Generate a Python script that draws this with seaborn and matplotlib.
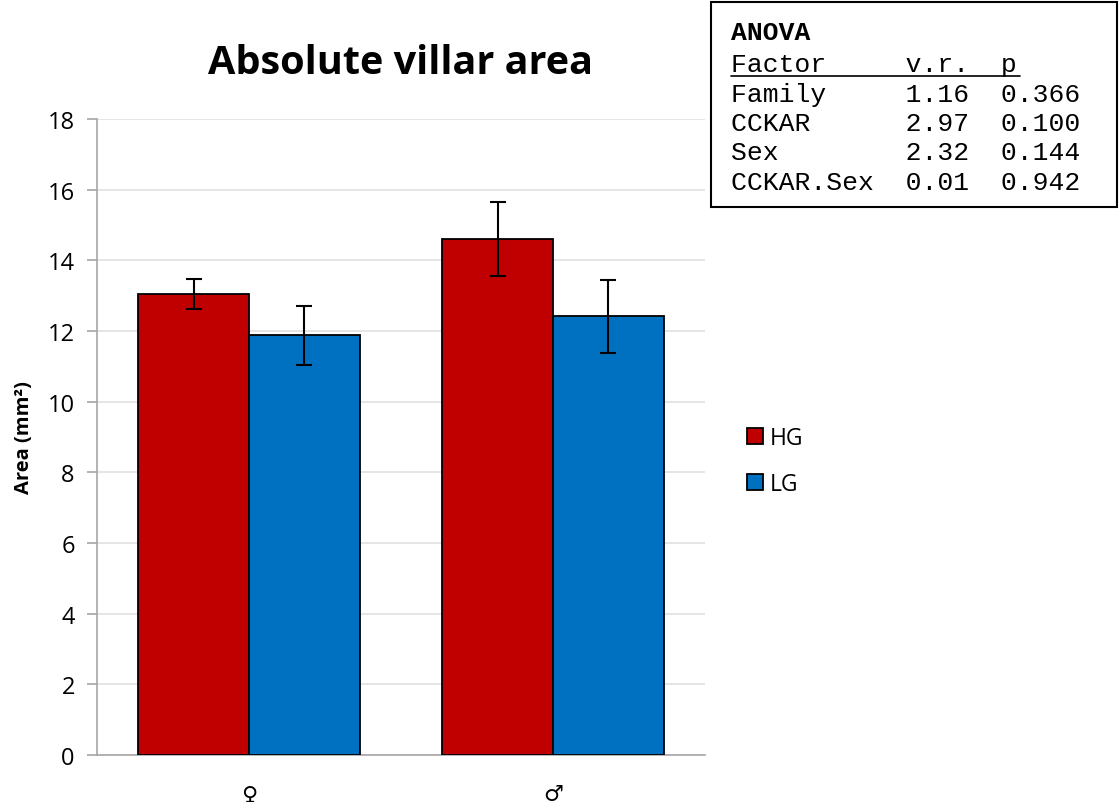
import matplotlib
matplotlib.use("Agg")
import matplotlib.pyplot as plt
import seaborn as sns
import pandas as pd
import numpy as np
from matplotlib.patches import Rectangle
from matplotlib.lines import Line2D

# ---- data ----
sexes = ["♀", "♂"]
groups = ["HG", "LG"]
hg_means = [13.05, 14.60]
lg_means = [11.88, 12.42]
hg_err = [0.42, 1.05]
lg_err = [0.83, 1.03]
yticks = [0, 2, 4, 6, 8, 10, 12, 14, 16, 18]
anova_factors = ["Family", "CCKAR", "Sex", "CCKAR.Sex"]
anova_vr = ["1.16", "2.97", "2.32", "0.01"]
anova_p = ["0.366", "0.100", "0.144", "0.942"]

df = pd.DataFrame({
    "sex": sexes * 2,
    "group": [groups[0]] * 2 + [groups[1]] * 2,
    "area": hg_means + lg_means,
    "err": hg_err + lg_err,
})

sns.set_theme(style="white")
plt.rcParams["font.family"] = ["Open Sans", "DejaVu Sans"]
plt.rcParams["text.color"] = "black"
plt.rcParams["axes.labelcolor"] = "black"
plt.rcParams["xtick.color"] = "black"
plt.rcParams["ytick.color"] = "black"

fig = plt.figure(figsize=(11.19, 8.03), dpi=100)
ax = fig.add_axes([97 / 1119, 1 - 756 / 803, (705 - 97) / 1119, (756 - 120) / 803])

palette = {"HG": "#C00000", "LG": "#0070C0"}
sns.barplot(data=df, x="sex", y="area", hue="group", order=sexes, hue_order=groups,
            palette=palette, width=0.73, gap=0, errorbar=None, saturation=1,
            edgecolor="black", linewidth=1.3, ax=ax, zorder=3)

# error bars from bar patch positions
bars = [p for p in ax.patches if isinstance(p, Rectangle) and p.get_height() > 0]
bars = sorted(bars, key=lambda p: p.get_x())
xs = [b.get_x() + b.get_width() / 2 for b in bars]
hs = [b.get_height() for b in bars]
err_lookup = {round(m, 3): e for m, e in zip(df["area"], df["err"])}
errs = [err_lookup[round(h, 3)] for h in hs]
ax.errorbar(xs, hs, yerr=errs, fmt="none", ecolor="black", elinewidth=1.5,
            capsize=6, capthick=1.5, zorder=4)

ax.set_ylim(0, 18)
ax.set_xlim(-0.5, 1.5)
ax.set_yticks(yticks)
ax.set_yticklabels([str(t) for t in yticks], fontsize=17)
ax.yaxis.grid(True, color="#e0e0e0", linewidth=1.2, zorder=0)
ax.set_axisbelow(True)
ax.set_xticks([0, 1])
ax.set_xticklabels(sexes, fontsize=16, family=["DejaVu Sans"])
ax.set_xticks([-0.5, 0.5, 1.5], minor=True)
ax.tick_params(axis="x", which="major", length=0, pad=21)
ax.tick_params(axis="x", which="minor", length=7, color="#a6a6a6", width=1.2, direction="out")
ax.tick_params(axis="y", length=7, color="#a6a6a6", width=1.2, direction="out", left=True, pad=9,
               labelcolor="black")
for s in ["top", "right"]:
    ax.spines[s].set_visible(False)
for s in ["left", "bottom"]:
    ax.spines[s].set_color("#a6a6a6")
    ax.spines[s].set_linewidth(1.2)
ax.set_xlabel("")
ax.set_ylabel("Area (mm²)", fontsize=14.5, fontweight="bold", labelpad=10, color="black")
ax.set_title("Absolute villar area", fontsize=28.5, fontweight="bold", pad=33, color="black")

# legend
handles, labels = ax.get_legend_handles_labels()
ax.legend(handles, labels, loc="center left", bbox_to_anchor=(726 / 1119, 1 - 462 / 803),
          bbox_transform=fig.transFigure, frameon=False, fontsize=16.5,
          handlelength=0.7, handleheight=0.7, handletextpad=0.3, labelspacing=0.95)

# ANOVA box
fig.add_artist(Rectangle((711 / 1119, 1 - 208 / 803), (1117 - 711) / 1119, (208 - 3) / 803,
                         transform=fig.transFigure, fill=False, edgecolor="black", linewidth=1.5))
mono = "Liberation Mono"
x0 = 731 / 1119
fig.text(x0, 1 - 33 / 803, "ANOVA", family=mono, fontweight="bold", fontsize=19, va="center")
fig.text(x0, 1 - 65 / 803, "Factor     v.r.  p", family=mono, fontsize=19, va="center")
fig.add_artist(Line2D([731 / 1119, 1020 / 1119], [1 - 77 / 803, 1 - 77 / 803],
                      transform=fig.transFigure, color="black", linewidth=1.2))
rows_y = [95, 124, 153, 183]
for f, v, p, yy in zip(anova_factors, anova_vr, anova_p, rows_y):
    line = f"{f:<9}  {v:>4}  {p}"
    fig.text(x0, 1 - yy / 803, line, family=mono, fontsize=19, va="center")

fig.savefig("out.png", dpi=100)
